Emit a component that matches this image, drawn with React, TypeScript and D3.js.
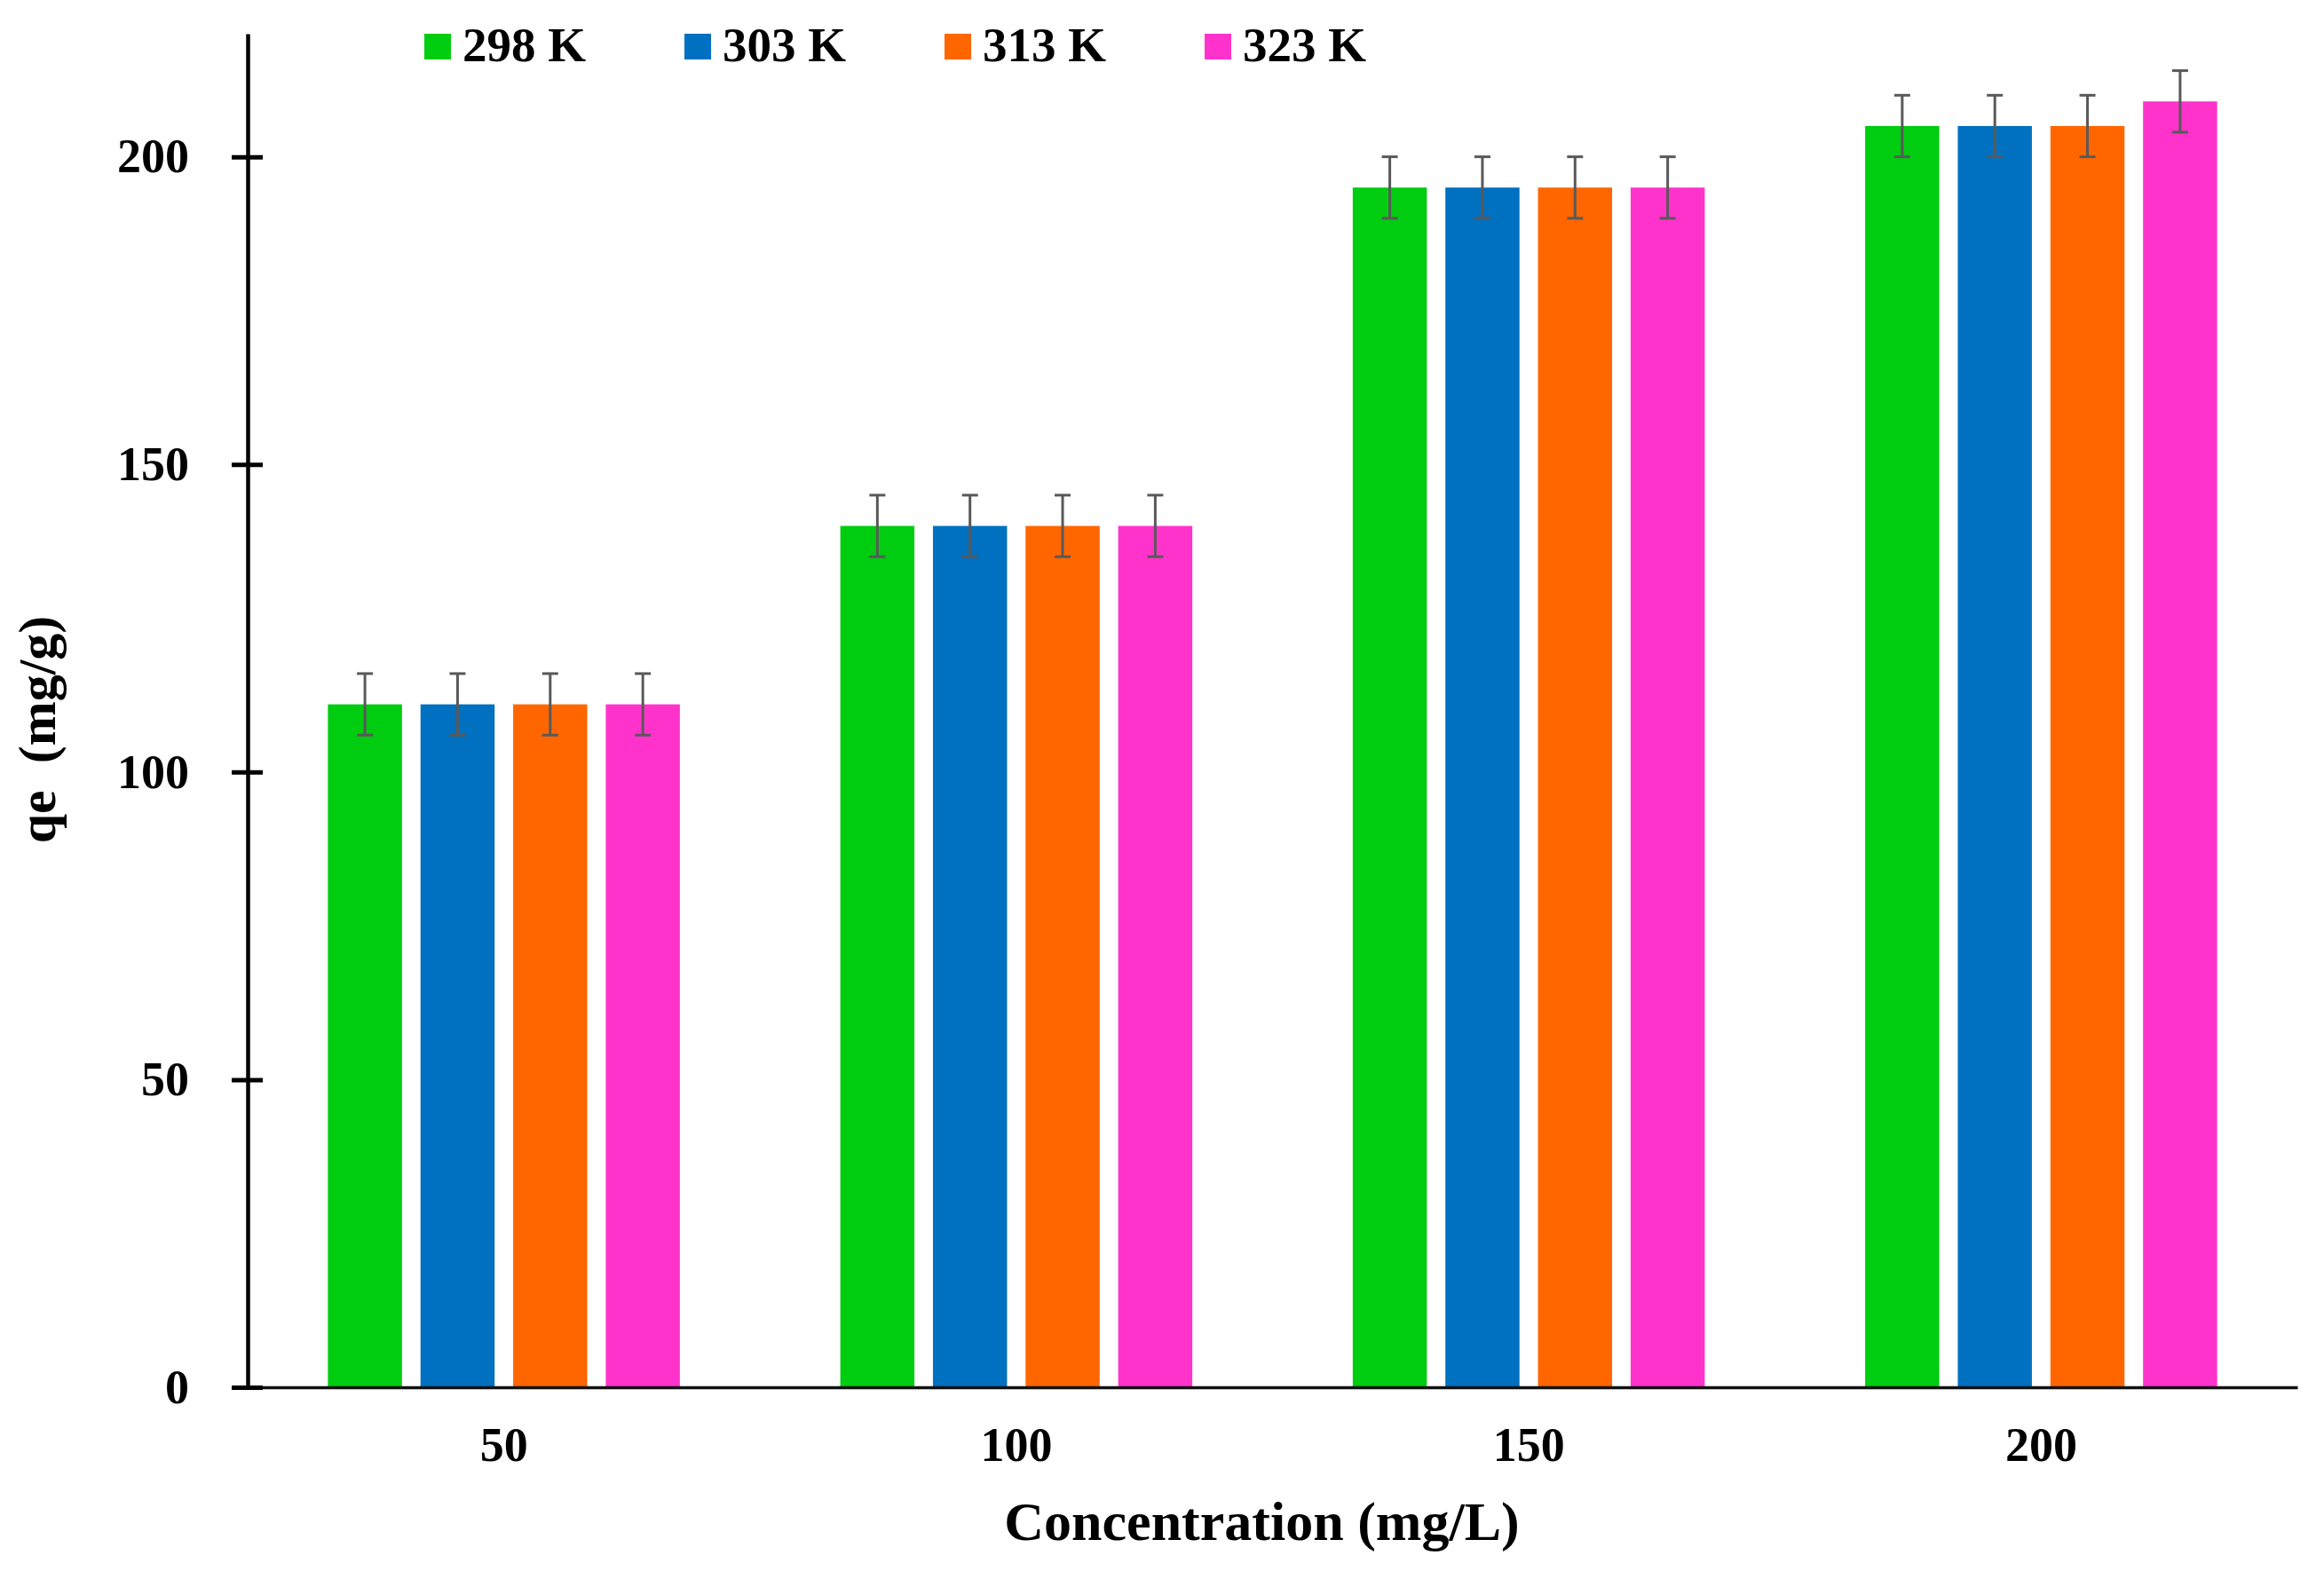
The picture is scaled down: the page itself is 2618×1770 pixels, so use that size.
import * as d3 from 'd3';
import React, { useEffect, useRef } from 'react';

const categories = ['50', '100', '150', '200'];
const seriesNames = ['298 K', '303 K', '313 K', '323 K'];
const q298 = [111, 140, 195, 205];
const q303 = [111, 140, 195, 205];
const q313 = [111, 140, 195, 205];
const q323 = [111, 140, 195, 209];
const err298 = [5, 5, 5, 5];
const err303 = [5, 5, 5, 5];
const err313 = [5, 5, 5, 5];
const err323 = [5, 5, 5, 5];
const yTicks = [0, 50, 100, 150, 200];

const colors = ['#00cc10', '#0070c0', '#ff6600', '#ff33cc'];

type Row = { category: string; series: string; value: number; err: number };

const App: React.FC = () => {
  const ref = useRef<SVGSVGElement | null>(null);
  const width = 2618;
  const height = 1770;

  useEffect(() => {
    if (!ref.current) return;
    document.body.style.margin = '0';

    const svg = d3.select(ref.current);
    svg.selectAll('*').remove();

    const allValues = [q298, q303, q313, q323];
    const allErrs = [err298, err303, err313, err323];
    const rows: Row[] = [];
    categories.forEach((c, ci) => {
      seriesNames.forEach((s, si) => {
        rows.push({ category: c, series: s, value: allValues[si][ci], err: allErrs[si][ci] });
      });
    });

    const left = 279;
    const right = 2588;
    const top = 38;
    const bottom = 1563;
    const font = '"Liberation Serif", "Times New Roman", serif';

    const x0 = d3.scaleBand().domain(categories).range([left, right]).padding(0);
    const x1 = d3
      .scaleBand()
      .domain(seriesNames)
      .range([0, x0.bandwidth()])
      .paddingInner(0.2)
      .paddingOuter(0.866);
    const y = d3.scaleLinear().domain([0, 220]).range([bottom, top]);
    const color = d3.scaleOrdinal<string, string>().domain(seriesNames).range(colors);

    // bars
    svg
      .append('g')
      .selectAll('rect')
      .data(rows)
      .enter()
      .append('rect')
      .attr('x', (d) => (x0(d.category) ?? 0) + (x1(d.series) ?? 0))
      .attr('y', (d) => y(d.value))
      .attr('width', x1.bandwidth())
      .attr('height', (d) => y(0) - y(d.value))
      .attr('fill', (d) => color(d.series));

    // error bars
    const eg = svg.append('g').attr('stroke', '#595959').attr('stroke-width', 3);
    rows.forEach((d) => {
      const cx = (x0(d.category) ?? 0) + (x1(d.series) ?? 0) + x1.bandwidth() / 2;
      const hi = y(d.value + d.err);
      const lo = y(d.value - d.err);
      eg.append('line').attr('x1', cx).attr('x2', cx).attr('y1', hi).attr('y2', lo);
      eg.append('line').attr('x1', cx - 9).attr('x2', cx + 9).attr('y1', hi).attr('y2', hi);
      eg.append('line').attr('x1', cx - 9).attr('x2', cx + 9).attr('y1', lo).attr('y2', lo);
    });

    // X axis
    const xAxis = svg
      .append('g')
      .attr('transform', `translate(0,${bottom})`)
      .call(d3.axisBottom(x0).tickSize(0).tickPadding(45));
    xAxis.select('.domain').attr('stroke', '#111').attr('stroke-width', 3.5);
    xAxis
      .selectAll('text')
      .attr('fill', '#000')
      .style('font-family', font)
      .style('font-weight', 'bold')
      .style('font-size', '54px');

    // Y axis
    const yAxis = svg
      .append('g')
      .attr('transform', `translate(${left},0)`)
      .call(d3.axisLeft(y).tickValues(yTicks).tickSizeOuter(0).tickSizeInner(17).tickPadding(49));
    yAxis.select('.domain').attr('stroke', '#000').attr('stroke-width', 4.5);
    yAxis.selectAll('.tick line').attr('x1', 17).attr('x2', -18).attr('stroke', '#000').attr('stroke-width', 5);
    yAxis
      .selectAll('text')
      .attr('fill', '#000')
      .style('font-family', font)
      .style('font-weight', 'bold')
      .style('font-size', '54px');

    // axis titles
    svg
      .append('text')
      .attr('x', (left + right) / 2 - 12)
      .attr('y', 1735)
      .attr('text-anchor', 'middle')
      .style('font-family', font)
      .style('font-weight', 'bold')
      .style('font-size', '62px')
      .text('Concentration (mg/L)');

    svg
      .append('text')
      .attr('transform', 'translate(62,822) rotate(-90)')
      .attr('text-anchor', 'middle')
      .style('font-family', font)
      .style('font-weight', 'bold')
      .style('font-size', '60px')
      .style('white-space', 'pre')
      .text('qe  (mg/g)');

    // legend
    const legend = svg.append('g');
    seriesNames.forEach((s, i) => {
      const row = legend.append('g').attr('transform', `translate(${478 + i * 293},0)`);
      row.append('rect').attr('x', 0).attr('y', 38).attr('width', 30).attr('height', 29).attr('fill', color(s));
      row
        .append('text')
        .attr('x', 43)
        .attr('y', 69)
        .style('font-family', font)
        .style('font-weight', 'bold')
        .style('font-size', '55px')
        .text(s);
    });
  }, []);

  return <svg ref={ref} width={width} height={height} style={{ display: 'block', background: '#fff' }}></svg>;
};

export default App;
